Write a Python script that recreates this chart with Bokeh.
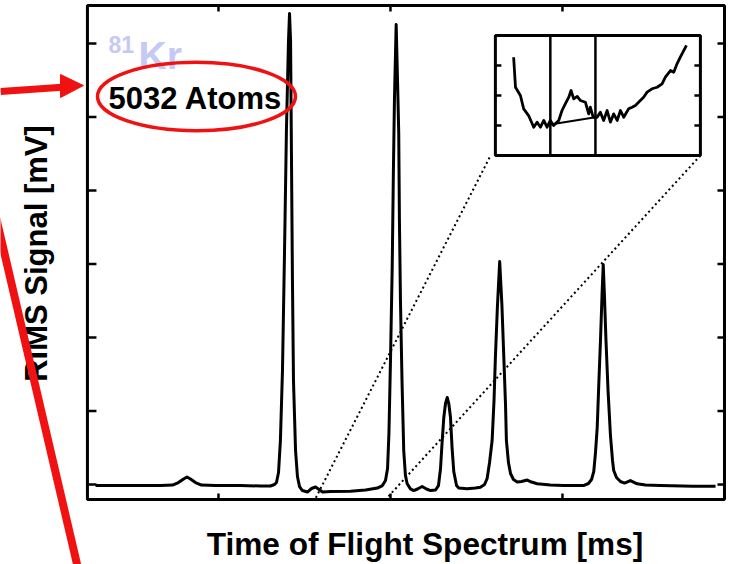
import numpy as np
from bokeh.plotting import figure
from bokeh.models import Range1d
from bokeh.embed import file_html
from bokeh.resources import INLINE
from bokeh.core.properties import value

# ---------------- data ----------------
tof_ms = [0.285, 0.488, 0.663, 0.733, 0.767, 0.797, 0.817, 0.837, 0.866, 0.901,
          0.983, 1.128, 1.244, 1.302, 1.326, 1.337, 1.349, 1.360, 1.372, 1.384,
          1.395, 1.407, 1.413, 1.419, 1.424, 1.430, 1.436, 1.448, 1.459, 1.471,
          1.488, 1.517, 1.541, 1.564, 1.581, 1.605, 1.651, 1.767, 1.855, 1.924,
          1.953, 1.971, 1.983, 1.991, 2.000, 2.010, 2.017, 2.023, 2.033, 2.041,
          2.048, 2.052, 2.058, 2.067, 2.077, 2.087, 2.097, 2.116, 2.135, 2.157,
          2.184, 2.209, 2.233, 2.262, 2.279, 2.291, 2.299, 2.310, 2.320, 2.330,
          2.339, 2.349, 2.358, 2.368, 2.384, 2.397, 2.446, 2.494, 2.523, 2.547,
          2.562, 2.576, 2.591, 2.602, 2.610, 2.622, 2.635, 2.648, 2.659, 2.669,
          2.674, 2.686, 2.698, 2.715, 2.737, 2.762, 2.795, 2.820, 2.853, 2.930,
          3.006, 3.122, 3.151, 3.169, 3.182, 3.192, 3.202, 3.212, 3.221, 3.230,
          3.237, 3.244, 3.253, 3.265, 3.279, 3.291, 3.298, 3.314, 3.337, 3.361,
          3.395, 3.413, 3.434, 3.483, 3.570, 3.762, 3.890]
signal_mV = [-0.014, -0.014, -0.014, -0.007, 0.027, 0.075, 0.102, 0.075, 0.027, -0.007,
             -0.014, -0.014, -0.020, -0.020, 0.000, 0.027, 0.163, 0.599, 1.551, 3.184,
             4.816, 6.041, 6.408, 6.041, 4.544, 2.775, 1.415, 0.463, 0.109, -0.027,
             -0.082, -0.102, -0.054, -0.034, -0.061, -0.102, -0.095, -0.091, -0.075, -0.048,
             -0.014, 0.054, 0.218, 0.694, 1.687, 2.952, 4.272, 5.224, 6.258, 5.496,
             4.775, 3.592, 2.503, 1.415, 0.463, 0.122, 0.010, -0.059, -0.082, -0.061,
             -0.027, -0.061, -0.082, -0.075, -0.014, 0.218, 0.531, 0.912, 1.102, 1.184,
             1.102, 0.912, 0.503, 0.177, -0.014, -0.048, -0.059, -0.048, -0.037, 0.000,
             0.082, 0.299, 0.599, 1.143, 1.728, 2.435, 3.034, 2.435, 1.728, 1.075,
             0.599, 0.299, 0.150, 0.068, 0.034, 0.041, 0.061, 0.034, 0.010, -0.007,
             -0.014, -0.014, 0.014, 0.068, 0.177, 0.435, 0.775, 1.415, 1.959, 2.571,
             2.993, 2.571, 1.959, 1.279, 0.667, 0.327, 0.190, 0.095, 0.041, 0.020,
             0.054, 0.034, 0.010, -0.007, -0.014, -0.023, -0.023]

# inset (zoomed region), in percent of the inset box
inset_x = [8.9, 9.8, 12.2, 13.8, 16.2, 18.7, 20.3, 22.0, 23.6, 25.2, 26.8, 28.4, 30.9,
           32.5, 34.1, 35.8, 36.9, 38.2, 39.9, 41.5, 43.9, 45.5, 46.3, 47.7, 49.6,
           51.2, 52.8, 54.5, 56.1, 57.7, 59.4, 61.0, 62.6, 65.0, 66.7, 68.3, 70.7,
           72.3, 74.0, 76.4, 78.9, 81.3, 82.9, 85.4, 87.0, 88.6, 90.2, 93.2]
inset_y = [81.9, 56.9, 50.0, 38.9, 33.3, 23.6, 27.8, 23.6, 29.2, 23.6, 29.2, 25.0, 29.2,
           37.5, 43.1, 48.6, 54.2, 47.2, 49.2, 45.8, 44.4, 34.7, 40.3, 31.9, 31.9,
           36.1, 29.2, 37.5, 27.8, 34.7, 29.2, 37.5, 31.9, 38.9, 40.3, 41.7, 45.8,
           48.6, 52.8, 55.6, 56.9, 59.7, 65.3, 70.8, 69.4, 76.4, 81.9, 91.7]
inset_base_x = [26.0, 48.8]
inset_base_y = [25.6, 31.9]
inset_markers = [26.8, 48.8]
inset_ticks = [25, 50, 75]

x_ticks = [1, 2, 3]
y_ticks = [0, 1, 2, 3, 4, 5, 6]

# plotting-box limits (axis ranges of the spectrum)
X_MIN, X_MAX = 0.238, 3.942
Y_MIN, Y_MAX = -0.204, 6.517

RED = "#f01212"
FONT = "Liberation Sans"

# ---------------- figure (canvas-wide frame so the margin drawings show) ----------------
p = figure(width=730, height=564, output_backend="svg", toolbar_location=None,
           x_range=Range1d(-0.2675, 3.977), y_range=Range1d(-1.088, 6.585),
           x_axis_location=None, y_axis_location=None, min_border=0)
p.min_border_left = p.min_border_right = p.min_border_top = p.min_border_bottom = 0
p.xgrid.grid_line_color = None
p.ygrid.grid_line_color = None
p.outline_line_color = None
p.background_fill_color = "white"
p.border_fill_color = "white"

# zoom indicator dotted lines (from the inset corners to the zoomed window)
ix0, ix1, iy0, iy1 = 2.610, 3.802, 4.476, 6.109
zoom_lo, zoom_hi = 1.564, 1.977
p.segment(x0=[2.576, ix1], y0=[4.449, iy0], x1=[zoom_lo, zoom_hi], y1=[-0.19, -0.19],
          line_color="black", line_width=2, line_dash="2 3")

# main spectrum
p.line(tof_ms, signal_mV, line_color="black", line_width=3, line_join="round")

# plot box and inward ticks
p.quad(left=[X_MIN], right=[X_MAX], bottom=[Y_MIN], top=[Y_MAX],
       fill_color=None, line_color="black", line_width=3)
p.ray(x=[X_MIN] * len(y_ticks), y=y_ticks, length=9, length_units="screen", angle=0,
      line_color="black", line_width=2.5)
p.ray(x=[X_MAX] * len(y_ticks), y=y_ticks, length=7, length_units="screen", angle=np.pi,
      line_color="black", line_width=2.5)
p.ray(x=x_ticks, y=[Y_MIN] * len(x_ticks), length=6, length_units="screen", angle=np.pi / 2,
      line_color="black", line_width=2.5)
p.ray(x=x_ticks, y=[Y_MAX] * len(x_ticks), length=6, length_units="screen", angle=-np.pi / 2,
      line_color="black", line_width=2.5)

# inset
def to_ix(v):
    return ix0 + np.asarray(v, dtype=float) / 100.0 * (ix1 - ix0)

def to_iy(v):
    return iy0 + np.asarray(v, dtype=float) / 100.0 * (iy1 - iy0)

p.quad(left=[ix0], right=[ix1], bottom=[iy0], top=[iy1],
       fill_color="white", line_color="black", line_width=3)
p.segment(x0=to_ix(inset_markers), y0=[iy0] * 2, x1=to_ix(inset_markers), y1=[iy1] * 2,
          line_color="black", line_width=2.5)
p.line(to_ix(inset_x), to_iy(inset_y), line_color="black", line_width=2.8, line_join="round")
p.line(to_ix(inset_base_x), to_iy(inset_base_y), line_color="black", line_width=2)
p.ray(x=[ix0] * 3, y=to_iy(inset_ticks), length=6, length_units="screen", angle=0,
      line_color="black", line_width=2.5)
p.ray(x=[ix1] * 3, y=to_iy(inset_ticks), length=6, length_units="screen", angle=np.pi,
      line_color="black", line_width=2.5)

# annotation texts inside the plot
p.text(x=[0.360], y=[5.986], text=["81"], text_font=value(FONT), text_font_style="bold",
       text_font_size="23px", text_color="#c6c9f6", text_align="left", text_baseline="alphabetic")
p.text(x=[0.535], y=[5.837], text=["Kr"], text_font=value(FONT), text_font_style="bold",
       text_font_size="39px", text_color="#c6c9f6", text_align="left", text_baseline="alphabetic")
p.text(x=[0.866], y=[5.252], text=["5032 Atoms"], text_font=value(FONT), text_font_style="bold",
       text_font_size="31px", text_color="black", text_align="center", text_baseline="alphabetic")
p.ellipse(x=[0.872], y=[5.279], width=[1.151], height=[0.93],
          fill_color=None, line_color=RED, line_width=3.5)

# axis titles
p.text(x=[2.2006], y=[-0.803], text=["Time of Flight Spectrum [ms]"], text_font=value(FONT),
       text_font_style="bold", text_font_size="31.6px", text_color="black",
       text_align="center", text_baseline="alphabetic")
p.text(x=[-0.058], y=[3.143], text=["RIMS Signal [mV]"], angle=np.pi / 2, text_font=value(FONT),
       text_font_style="bold", text_font_size="31px", text_color="black",
       text_align="center", text_baseline="alphabetic")

# red pointer arrow and red diagonal stroke
p.segment(x0=[-0.2675], y0=[5.347], x1=[0.110], y1=[5.408], line_color=RED, line_width=7)
p.patch(x=[0.0814, 0.215, 0.0814], y=[5.578, 5.428, 5.265], fill_color=RED, line_color=RED,
        line_width=1)
p.segment(x0=[-0.384], y0=[4.544], x1=[0.186], y1=[-1.170], line_color=RED, line_width=8)

open("out.html", "w").write(file_html(p, INLINE))
